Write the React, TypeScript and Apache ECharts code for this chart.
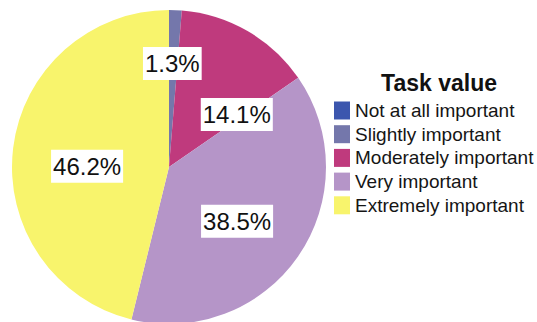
import React, { useEffect, useRef } from "react";
import * as echarts from "echarts";

const categories = [
  "Not at all important",
  "Slightly important",
  "Moderately important",
  "Very important",
  "Extremely important",
];
const percents = [0, 1.3, 14.1, 38.5, 46.2];
const colors = ["#3c56ae", "#7477ab", "#bf3a7d", "#b595c8", "#f8f46c"];
// label nudges (dx, dy) from the default inner position
const labelDx = [0, 0, 27, 1, -1];
const labelDy = [0, -22, 18, 8, 9];

const FONT = "'Liberation Sans', Arial, Helvetica, sans-serif";

export default function App() {
  const ref = useRef<HTMLDivElement>(null);
  useEffect(() => {
    if (!ref.current) return;
    const chart = echarts.init(ref.current, undefined, { renderer: "svg" });
    chart.setOption({
      animation: false,
      backgroundColor: "#ffffff",
      title: {
        text: "Task value",
        left: 434,
        top: 66,
        textAlign: "center",
        textStyle: {
          fontFamily: FONT,
          fontWeight: "bold",
          fontSize: 23,
          color: "#111111",
        },
      },
      legend: {
        orient: "vertical",
        left: 329,
        top: 96,
        itemWidth: 16,
        itemHeight: 18,
        itemGap: 4.7,
        icon: "rect",
        data: categories,
        textStyle: {
          fontFamily: FONT,
          fontSize: 19,
          lineHeight: 18,
          color: "#151515",
        },
      },
      series: [
        {
          type: "pie",
          center: [169, 167],
          radius: [0, 157],
          startAngle: 90,
          clockwise: true,
          avoidLabelOverlap: false,
          silent: true,
          label: {
            show: true,
            position: "inner",
            formatter: (p: any) => p.value.toFixed(1) + "%",
            fontFamily: FONT,
            fontSize: 24,
            lineHeight: 29,
            color: "#111111",
            backgroundColor: "#ffffff",
            padding: [2, 2],
          },
          labelLine: { show: false },
          labelLayout: (params: any) => ({
            dx: labelDx[params.dataIndex],
            dy: labelDy[params.dataIndex],
          }),
          data: categories.map((name, i) => ({
            name,
            value: percents[i],
            itemStyle: { color: colors[i] },
            label: percents[i] === 0 ? { show: false } : undefined,
          })),
        },
      ],
    });
    return () => chart.dispose();
  }, []);
  return (
    <div
      ref={ref}
      style={{ position: "fixed", left: 0, top: 0, width: 537, height: 322 }}
    />
  );
}
